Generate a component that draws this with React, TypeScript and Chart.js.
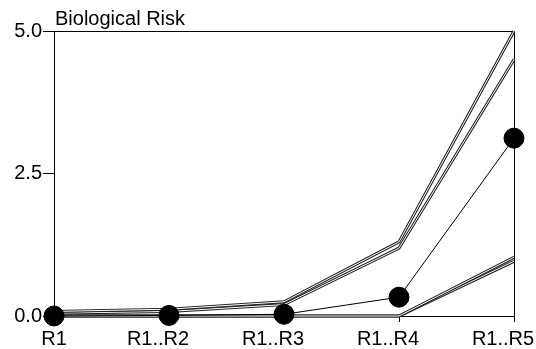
import React, { useEffect, useRef } from "react";
import { Chart, registerables } from "chart.js";

Chart.register(...registerables);

const categories = ["R1", "R1..R2", "R1..R3", "R1..R4", "R1..R5"];
const seriesA = [0.08, 0.12, 0.25, 1.3, 5.0];
const seriesB = [0.05, 0.08, 0.2, 1.19, 4.5];
const seriesDots = [0, 0.01, 0.03, 0.33, 3.12];
const seriesC = [0, 0, 0, 0, 1.03];
const seriesD = [0, 0, 0, 0, 0.96];
const yTicks = [0, 2.5, 5.0];
const title = "Biological Risk";

const FONT = "'Liberation Sans', Arial, sans-serif";
const FONT_SIZE = 20;

const framePlugin = {
  id: "frame",
  beforeDatasetsDraw(chart: any) {
    const { ctx, chartArea } = chart;
    ctx.save();
    ctx.strokeStyle = "#000";
    ctx.lineWidth = 1;
    ctx.strokeRect(
      Math.round(chartArea.left) + 0.5,
      Math.round(chartArea.top) + 0.5,
      Math.round(chartArea.right - chartArea.left),
      Math.round(chartArea.bottom - chartArea.top)
    );
    ctx.restore();
  },
  afterDraw(chart: any) {
    const { ctx, chartArea } = chart;
    const xScale = chart.scales.x;
    ctx.save();
    ctx.fillStyle = "#000";
    ctx.font = FONT_SIZE + "px " + FONT;
    ctx.textBaseline = "alphabetic";
    ctx.textAlign = "left";
    ctx.fillText(title, chartArea.left + 1, chartArea.top - 6);
    // category labels (centred slightly left of the tick for the longer names, as in the original)
    ctx.textAlign = "center";
    ctx.textBaseline = "top";
    categories.forEach((c, i) => {
      const px = xScale.getPixelForValue(i);
      const shift = i === 0 ? 0 : -11;
      ctx.fillText(c, px + shift, chartArea.bottom + 13);
    });
    ctx.restore();
  },
};

function doubleLine(data: number[], order: number) {
  return [
    {
      data,
      borderColor: "#222",
      borderWidth: 3,
      pointRadius: 0,
      tension: 0,
      order: order + 1,
      clip: false as any,
    },
    {
      data,
      borderColor: "#fff",
      borderWidth: 1,
      pointRadius: 0,
      tension: 0,
      order: order,
      clip: false as any,
    },
  ];
}

export default function App() {
  const ref = useRef<HTMLCanvasElement>(null);
  useEffect(() => {
    document.body.style.margin = "0";
    const chart = new Chart(ref.current!, {
      type: "line",
      data: {
        labels: categories,
        datasets: [
          ...doubleLine(seriesA, 10),
          ...doubleLine(seriesB, 12),
          ...doubleLine(seriesC, 14),
          ...doubleLine(seriesD, 16),
          {
            data: seriesDots,
            borderColor: "#000",
            borderWidth: 1,
            pointRadius: 10,
            pointBackgroundColor: "#000",
            pointBorderColor: "#000",
            tension: 0,
            order: 0,
            clip: false as any,
          },
        ] as any,
      },
      options: {
        responsive: false,
        animation: false,
        layout: { padding: { left: 0, right: 22, top: 31, bottom: 0 } },
        plugins: { legend: { display: false }, tooltip: { enabled: false }, title: { display: false } },
        scales: {
          x: {
            offset: false,
            grid: { display: true, drawOnChartArea: false, drawTicks: true, tickLength: 6, color: "#000" },
            border: { display: true, color: "#000" },
            ticks: { color: "rgba(0,0,0,0)", font: { family: FONT, size: FONT_SIZE }, padding: 0, maxRotation: 0, autoSkip: false },
            afterFit(axis: any) {
              axis.height = 33;
              axis.paddingLeft = 0;
              axis.paddingRight = 0;
            },
          },
          y: {
            min: 0,
            max: 5,
            afterBuildTicks(axis: any) {
              axis.ticks = yTicks.map((v) => ({ value: v }));
            },
            grid: { display: true, drawOnChartArea: false, drawTicks: true, tickLength: 11, color: "#000" },
            border: { display: true, color: "#000" },
            ticks: {
              color: "#000",
              font: { family: FONT, size: FONT_SIZE },
              padding: 1,
              callback: (v: any) => Number(v).toFixed(1),
            },
            afterFit(axis: any) {
              axis.width = 54;
              axis.paddingTop = 0;
              axis.paddingBottom = 0;
            },
          },
        },
      },
      plugins: [framePlugin],
    });
    return () => chart.destroy();
  }, []);
  return <canvas ref={ref} width={536} height={349} style={{ display: "block" }} />;
}
